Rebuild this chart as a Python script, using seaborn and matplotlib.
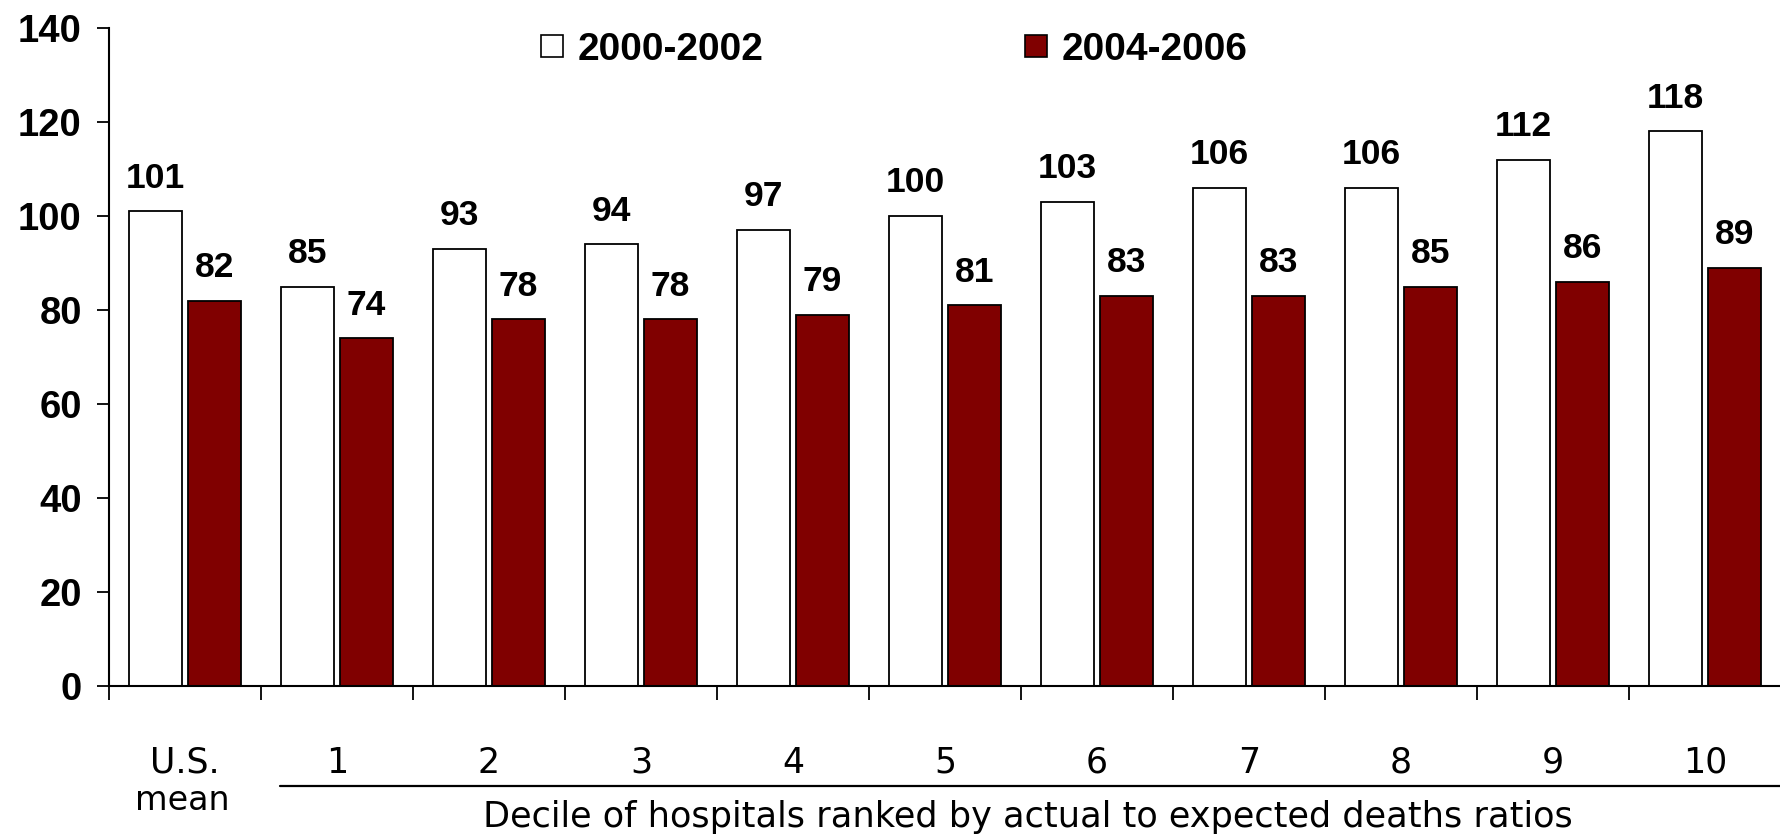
import matplotlib
matplotlib.use("Agg")
import matplotlib.pyplot as plt
from matplotlib.lines import Line2D
import seaborn as sns
import pandas as pd
import numpy as np

# Data
categories = ["U.S.", "1", "2", "3", "4", "5", "6", "7", "8", "9", "10"]
period_a = "2000-2002"
period_b = "2004-2006"
values_a = [101, 85, 93, 94, 97, 100, 103, 106, 106, 112, 118]
values_b = [82, 74, 78, 78, 79, 81, 83, 83, 85, 86, 89]
y_ticks = [0, 20, 40, 60, 80, 100, 120, 140]

df = pd.DataFrame({
    "category": categories * 2,
    "period": [period_a] * len(categories) + [period_b] * len(categories),
    "value": values_a + values_b,
})

sns.set_theme(style="white")
plt.rcParams["font.family"] = ["Liberation Sans", "DejaVu Sans"]
plt.rcParams.update({"text.color": "black", "xtick.color": "black",
                     "ytick.color": "black", "axes.labelcolor": "black"})

LIGHT = "DejaVu Sans"

W, H = 1781, 834
fig = plt.figure(figsize=(W / 100, H / 100), dpi=100)
ax = fig.add_axes([109 / W, (H - 686) / H, 1 - 109 / W, (686 - 28) / H])

palette = {period_a: "white", period_b: "#800000"}
sns.barplot(data=df, x="category", y="value", hue="period", palette=palette,
            order=categories, hue_order=[period_a, period_b],
            width=0.776, gap=0.1, edgecolor="black", linewidth=1.3,
            saturation=1, legend=False, ax=ax)

for cont in ax.containers:
    ax.bar_label(cont, fmt="%d", padding=12, fontsize=25.5, fontweight="bold",
                 color="black")

ax.set_xlim(-0.5, len(categories) - 0.5)
ax.set_ylim(0, 140)
ax.set_yticks(y_ticks)
ax.tick_params(axis="y", which="major", direction="out", length=8.6, width=1.3,
               labelsize=27.5, pad=11, left=True, color="black",
               labelcolor="black")
for lab in ax.get_yticklabels():
    lab.set_fontweight("bold")

# category labels at bar group centres, tick marks on group boundaries
ax.set_xticks(range(len(categories)))
ax.set_xticklabels(categories, fontsize=25, family=LIGHT)
ax.tick_params(axis="x", which="major", length=0, pad=43, labelcolor="black")
ax.set_xticks(np.arange(-0.5, len(categories) - 0.5, 1.0), minor=True)
ax.tick_params(axis="x", which="minor", direction="out", length=10, width=1.3,
               bottom=True, color="black")

ax.set_xlabel("")
ax.set_ylabel("")
for side in ["top", "right"]:
    ax.spines[side].set_visible(False)
for side in ["left", "bottom"]:
    ax.spines[side].set_color("black")
    ax.spines[side].set_linewidth(1.5)

# second line under the U.S. label, the decile bracket line and its caption
fig.text(182 / W, 1 - 801 / H, "mean", fontsize=24, family=LIGHT,
         ha="center", va="center", color="black")
fig.add_artist(Line2D([280 / W, 1.0], [1 - 786 / H, 1 - 786 / H],
                      color="black", linewidth=1.6))
fig.text(1028 / W, 1 - 817 / H,
         "Decile of hospitals ranked by actual to expected deaths ratios",
         fontsize=25.3, family=LIGHT, ha="center", va="center", color="black")

handles = [
    Line2D([], [], marker="s", linestyle="none", markersize=16,
           markerfacecolor="white", markeredgecolor="black", markeredgewidth=1.2),
    Line2D([], [], marker="s", linestyle="none", markersize=16,
           markerfacecolor="#800000", markeredgecolor="black", markeredgewidth=1.2),
]
leg = fig.legend(handles, [period_a, period_b], ncol=2, frameon=False,
                 loc="center left", bbox_to_anchor=(540 / W, 1 - 50 / H),
                 borderaxespad=0, borderpad=0, handlelength=0.62,
                 handletextpad=0.35, columnspacing=6.7,
                 prop={"size": 28, "weight": "bold"})
for t in leg.get_texts():
    t.set_color("black")

fig.savefig("out.png", dpi=100)
